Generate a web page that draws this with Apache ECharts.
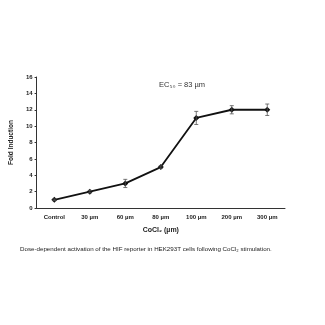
<!DOCTYPE html>
<html><head><meta charset="utf-8">
<script src="https://cdn.jsdelivr.net/npm/echarts@6/dist/echarts.min.js"></script>
<style>html,body{margin:0;padding:0;background:#fff}#c{width:325px;height:325px}</style>
</head><body><div id="c"></div>
<script>
const categories = ['Control', '30 µm', '60 µm', '80 µm', '100 µm', '200 µm', '300 µm'];
const foldInduction = [1, 2, 3, 5, 11, 12, 12];
const errors = [0.1, 0.15, 0.5, 0.15, 0.8, 0.5, 0.7];
const yTicks = [0, 2, 4, 6, 8, 10, 12, 14, 16];

const chart = echarts.init(document.getElementById('c'));
const font = 'Liberation Sans Narrow, Liberation Sans';
const errData = categories.map((c, i) => [i, foldInduction[i] - errors[i], foldInduction[i] + errors[i]]);
chart.setOption({
  animation: false,
  grid: { left: 34, right: 40, top: 77, bottom: 117 },
  title: [
    { text: 'EC₅₀ = 83 µm', left: 154, top: 76, textStyle: { fontSize: 7.5, fontWeight: 'normal', color: '#333', fontFamily: font } },
    { text: 'Dose-dependent activation of the HIF reporter in HEK293T cells following CoCl₂ stimulation.', left: 15, top: 241, textStyle: { fontSize: 6.2, fontWeight: 'normal', color: '#222', fontFamily: font } }
  ],
  xAxis: {
    type: 'category', data: categories, boundaryGap: true,
    name: 'CoCl₂ (µm)', nameLocation: 'middle', nameGap: 19,
    nameTextStyle: { fontSize: 7, fontWeight: 'bold', color: '#222', fontFamily: font },
    axisLine: { lineStyle: { color: '#333', width: 1 } },
    axisTick: { show: false },
    axisLabel: { fontSize: 6, fontWeight: 'bold', color: '#222', margin: 6, fontFamily: font, interval: 0 }
  },
  yAxis: {
    type: 'value', min: 0, max: 16, interval: 2,
    name: 'Fold Induction', nameLocation: 'middle', nameGap: 15, nameRotate: 90,
    nameTextStyle: { fontSize: 6.5, fontWeight: 'bold', color: '#222', fontFamily: font },
    axisLine: { show: true, lineStyle: { color: '#333', width: 1 } },
    axisTick: { show: true, length: 2, lineStyle: { color: '#333' } },
    splitLine: { show: false },
    axisLabel: { fontSize: 6, fontWeight: 'bold', color: '#222', margin: 4, fontFamily: font,
      formatter: v => yTicks.includes(v) ? String(v) : '' }
  },
  series: [
    { type: 'line', data: foldInduction, symbol: 'diamond', symbolSize: 6,
      lineStyle: { color: '#111', width: 1.8 }, itemStyle: { color: '#111' } },
    { type: 'custom', data: errData, z: 5,
      renderItem: (params, api) => {
        const x = api.value(0);
        const lo = api.coord([x, api.value(1)]);
        const hi = api.coord([x, api.value(2)]);
        const w = 2;
        const st = { stroke: '#555', lineWidth: 0.8 };
        return { type: 'group', children: [
          { type: 'line', shape: { x1: lo[0], y1: lo[1], x2: hi[0], y2: hi[1] }, style: st },
          { type: 'line', shape: { x1: lo[0] - w, y1: lo[1], x2: lo[0] + w, y2: lo[1] }, style: st },
          { type: 'line', shape: { x1: hi[0] - w, y1: hi[1], x2: hi[0] + w, y2: hi[1] }, style: st }
        ] };
      } }
  ]
});
</script></body></html>
